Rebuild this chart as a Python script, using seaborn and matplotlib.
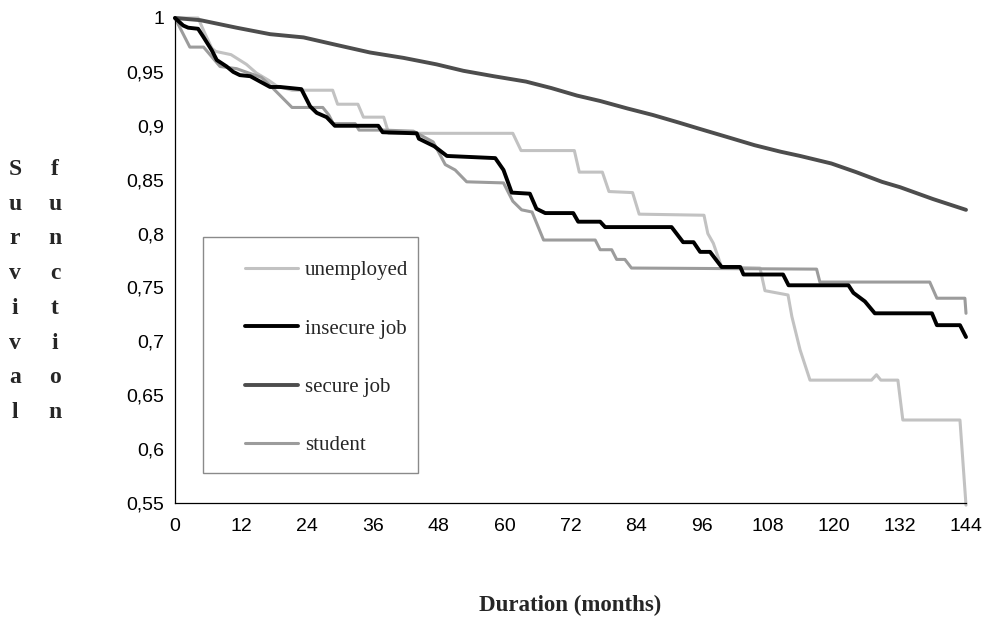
import matplotlib
matplotlib.use("Agg")
import matplotlib.pyplot as plt
from matplotlib.patches import Rectangle
import seaborn as sns
import pandas as pd

# ---- data ----
series_names = ["unemployed", "insecure job", "secure job", "student"]

unemployed_m = [0, 4.2, 5.5, 6.7, 7.4, 10.2, 13.0, 14.8, 17.1, 18.5, 21.3, 28.7, 29.6, 33.3, 34.3,
                38.0, 38.9, 61.5, 63.0, 72.7, 73.6, 77.8, 79.0, 83.3, 84.5, 96.3, 97.0, 98.0, 99.5,
                106.5, 107.4, 111.6, 112.3, 113.8, 115.6, 126.8, 127.7, 128.5, 131.6, 132.5, 142.9, 144]
unemployed_v = [1.0, 1.0, 0.985, 0.972, 0.969, 0.966, 0.957, 0.949, 0.942, 0.937, 0.933, 0.933, 0.920,
                0.920, 0.908, 0.908, 0.893, 0.893, 0.877, 0.877, 0.857, 0.857, 0.839, 0.838, 0.818,
                0.817, 0.800, 0.791, 0.769, 0.768, 0.747, 0.743, 0.723, 0.692, 0.664, 0.664, 0.669,
                0.664, 0.664, 0.627, 0.627, 0.548]

insecure_m = [0, 1.5, 2.4, 4.2, 5.1, 6.7, 7.6, 9.4, 10.6, 11.8, 13.7, 15.5, 17.3, 19.1, 23.0, 24.6,
              25.8, 27.6, 29.1, 37.0, 37.8, 44.0, 44.4, 47.2, 49.5, 58.3, 59.8, 61.3, 64.6, 65.8,
              67.4, 72.5, 73.4, 77.4, 78.3, 90.4, 92.5, 94.4, 95.6, 97.4, 99.5, 102.9, 103.5, 110.7,
              111.7, 122.6, 123.5, 125.6, 127.4, 137.8, 138.7, 142.9, 144]
insecure_v = [1.0, 0.993, 0.991, 0.990, 0.983, 0.970, 0.961, 0.955, 0.950, 0.947, 0.946, 0.941, 0.936,
              0.936, 0.934, 0.918, 0.912, 0.908, 0.900, 0.900, 0.894, 0.893, 0.888, 0.881, 0.872,
              0.870, 0.859, 0.838, 0.837, 0.823, 0.819, 0.819, 0.811, 0.811, 0.806, 0.806, 0.792,
              0.792, 0.783, 0.783, 0.769, 0.769, 0.762, 0.762, 0.752, 0.752, 0.745, 0.737, 0.726,
              0.726, 0.715, 0.715, 0.704]

secure_m = [0, 4.6, 11.2, 17.3, 23.4, 29.4, 35.5, 41.6, 47.6, 52.5, 58, 63.9, 68.5, 73.2, 77.4, 82.4,
            87, 91.7, 95.6, 100.9, 105.5, 110.2, 113.8, 119.5, 124, 128.7, 132, 138, 141, 144]
secure_v = [1.0, 0.998, 0.991, 0.985, 0.982, 0.975, 0.968, 0.963, 0.957, 0.951, 0.946, 0.941, 0.935,
            0.928, 0.923, 0.916, 0.910, 0.903, 0.897, 0.889, 0.882, 0.876, 0.872, 0.865, 0.857,
            0.848, 0.843, 0.832, 0.827, 0.822]

student_m = [0, 1.5, 2.7, 5.2, 8.2, 11.2, 13.4, 15.7, 17.6, 21.3, 26.9, 28.0, 28.8, 32.8, 33.5, 37.9,
             43.4, 47.0, 49.2, 51.0, 53.1, 59.8, 61.5, 63.1, 65.0, 67.1, 76.5, 77.4, 79.5, 80.4, 81.9,
             83.1, 116.8, 117.4, 137.4, 138.7, 143.8, 144]
student_v = [1.0, 0.985, 0.973, 0.973, 0.955, 0.953, 0.949, 0.945, 0.936, 0.917, 0.917, 0.910, 0.902,
             0.902, 0.896, 0.896, 0.895, 0.885, 0.864, 0.859, 0.848, 0.847, 0.830, 0.822, 0.820,
             0.794, 0.794, 0.785, 0.785, 0.776, 0.776, 0.768, 0.767, 0.755, 0.755, 0.740, 0.740, 0.726]

x_ticks = [0, 12, 24, 36, 48, 60, 72, 84, 96, 108, 120, 132, 144]
y_ticks = [0.55, 0.6, 0.65, 0.7, 0.75, 0.8, 0.85, 0.9, 0.95, 1.0]
y_tick_labels = ["0,55", "0,6", "0,65", "0,7", "0,75", "0,8", "0,85", "0,9", "0,95", "1"]

# ---- styling ----
sns.set_style("white")
plt.rcParams['font.family'] = ['Liberation Sans', 'DejaVu Sans']

colors = {"unemployed": "#c2c2c2", "insecure job": "#000000",
          "secure job": "#4d4d4d", "student": "#9c9c9c"}
widths = {"unemployed": 2.2, "insecure job": 2.8, "secure job": 2.8, "student": 2.2}
zorders = {"unemployed": 2, "insecure job": 4, "secure job": 3, "student": 2.5}

data = {"unemployed": (unemployed_m, unemployed_v),
        "insecure job": (insecure_m, insecure_v),
        "secure job": (secure_m, secure_v),
        "student": (student_m, student_v)}

fig = plt.figure(figsize=(9.96, 6.21), dpi=100)
ax = fig.add_axes([175/996, 1-503/621, (966-175)/996, (503-18)/621])

for name in series_names:
    m, v = data[name]
    df = pd.DataFrame({"Duration": m, "Survival": v})
    sns.lineplot(data=df, x="Duration", y="Survival", ax=ax, color=colors[name],
                 linewidth=widths[name], label=name, sort=False, estimator=None,
                 zorder=zorders[name])
for line in ax.get_lines():
    line.set_clip_on(False)

ax.set_xlim(0, 144)
ax.set_ylim(0.55, 1.0)
ax.set_xticks(x_ticks)
ax.set_xticklabels([str(t) for t in x_ticks])
ax.set_yticks(y_ticks)
ax.set_yticklabels(y_tick_labels)
ax.tick_params(axis='both', direction='inout', length=8, width=0.8, labelsize=14,
               colors='black', pad=4)
ax.tick_params(axis='x', pad=7)
for s in ["top", "right"]:
    ax.spines[s].set_visible(False)
for s in ["left", "bottom"]:
    ax.spines[s].set_color("black")
    ax.spines[s].set_linewidth(0.9)
ax.set_xlabel("")
ax.set_ylabel("")

# legend box drawn as a frame, entries placed inside it
box = Rectangle((0.0354, 0.0619), 0.272, 0.4866, transform=ax.transAxes,
                facecolor="white", edgecolor="#8a8a8a", linewidth=1.0, zorder=5)
ax.add_patch(box)
leg = ax.legend(loc="upper left", bbox_to_anchor=(0.0885, 0.4996),
                frameon=False, prop={"family": "Liberation Serif", "size": 15},
                handlelength=2.55, handletextpad=0.34, labelspacing=1.86,
                borderpad=0, borderaxespad=0)
leg.set_zorder(6)

# axis titles
serif = {"family": "Liberation Serif", "weight": "bold"}
fig.text(570/996, 1-605/621, "Duration (months)", ha="center", va="center",
         fontsize=16.5, **serif)
fig.text(15/996, 1-291/621, "S\nu\nr\nv\ni\nv\na\nl", ha="center", va="center",
         fontsize=17, linespacing=1.86, **serif)
fig.text(55/996, 1-291/621, "f\nu\nn\nc\nt\ni\no\nn", ha="center", va="center",
         fontsize=17, linespacing=1.86, **serif)

fig.savefig("out.png", dpi=100)
